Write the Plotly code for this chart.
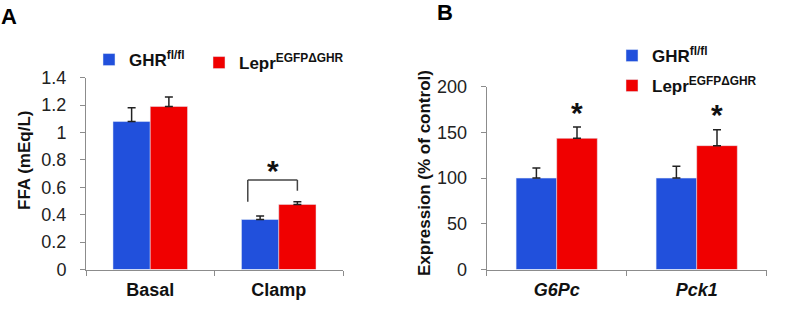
import plotly.graph_objects as go

# ---- data ----
cats_a = ["Basal", "Clamp"]
ghr_a = [1.08, 0.365]
ghr_a_err = [0.10, 0.025]
lepr_a = [1.19, 0.475]
lepr_a_err = [0.07, 0.02]

cats_b = ["G6Pc", "Pck1"]
ghr_b = [100, 100]
ghr_b_err = [11, 13]
lepr_b = [143.5, 135.5]
lepr_b_err = [12.5, 17.5]

name_ghr = "GHR<sup>fl/fl</sup>"
name_lepr = "Lepr<sup>EGFPΔGHR</sup>"

BLUE = "#2150DC"
RED = "#F00000"
FONT = "Liberation Sans, Arial, sans-serif"
AXC = "#8c8c8c"

W, H = 787, 314


def px_x(p):
    return p / W


def px_y(p):
    return 1 - p / H


fig = go.Figure()


def err(vals):
    return dict(type="data", array=vals, arrayminus=[0] * len(vals), symmetric=False,
                color="#222222", thickness=1.5, width=4)


fig.add_trace(go.Bar(x=cats_a, y=ghr_a, name=name_ghr, marker_color=BLUE, error_y=err(ghr_a_err),
                     xaxis="x", yaxis="y", legend="legend"))
fig.add_trace(go.Bar(x=cats_a, y=lepr_a, name=name_lepr, marker_color=RED, error_y=err(lepr_a_err),
                     xaxis="x", yaxis="y", legend="legend2"))
fig.add_trace(go.Bar(x=cats_b, y=ghr_b, name=name_ghr, marker_color=BLUE, error_y=err(ghr_b_err),
                     xaxis="x2", yaxis="y2", legend="legend3"))
fig.add_trace(go.Bar(x=cats_b, y=lepr_b, name=name_lepr, marker_color=RED, error_y=err(lepr_b_err),
                     xaxis="x2", yaxis="y2", legend="legend4"))

y0 = px_y(269.5)
xcommon = dict(showline=True, linecolor=AXC, linewidth=1, ticks="outside", tickson="boundaries",
               ticklen=5, tickcolor=AXC, showgrid=False, zeroline=False,
               ticklabelstandoff=4)
ycommon = dict(showline=True, linecolor=AXC, linewidth=1, ticks="outside", ticklen=5, tickcolor=AXC,
               showgrid=False, zeroline=False, tickfont=dict(family=FONT, size=18, color="#222222"),
               ticklabelstandoff=10)


def leg(xp, yp):
    return dict(x=px_x(xp), y=px_y(yp), xanchor="left", yanchor="middle",
                font=dict(family=FONT, size=17, color="#111111", weight="bold"),
                bgcolor="rgba(0,0,0,0)", itemwidth=30, itemclick=False, itemdoubleclick=False)


fig.update_layout(
    width=W, height=H,
    margin=dict(l=0, r=0, t=0, b=0, pad=0, autoexpand=False),
    paper_bgcolor="white", plot_bgcolor="white",
    barmode="group", bargap=0.42, bargroupgap=0,
    font=dict(family=FONT, color="#111111"),
    xaxis=dict(domain=[px_x(86), px_x(343)], anchor="y",
               tickfont=dict(family=FONT, size=18, color="#111111", weight="bold"), **xcommon),
    yaxis=dict(domain=[y0, px_y(77.7)], anchor="x", range=[0, 1.4], dtick=0.2,
               tickformat="~g", **ycommon),
    xaxis2=dict(domain=[px_x(486.7), px_x(766.7)], anchor="y2",
                tickfont=dict(family=FONT, size=18, color="#111111", weight="bold", style="italic"),
                **xcommon),
    yaxis2=dict(domain=[y0, px_y(86.7)], anchor="x2", range=[0, 200], dtick=50, **ycommon),
    legend=leg(89, 60),
    legend2=leg(199, 63),
    legend3=leg(612, 56),
    legend4=leg(612, 86),
    showlegend=True,
)

# significance bracket for Clamp (category index 1)
br_x = [0.759, 1.145]
br_top = 0.653
br_bottom = [0.495, 0.575]
for sx0, sy0, sx1, sy1 in [(br_x[0], br_bottom[0], br_x[0], br_top),
                           (br_x[0], br_top, br_x[1], br_top),
                           (br_x[1], br_top, br_x[1], br_bottom[1])]:
    fig.add_shape(type="line", xref="x", yref="y", x0=sx0, y0=sy0, x1=sx1, y1=sy1,
                  line=dict(color="#444444", width=1.5))

star_font = dict(family=FONT, size=30, color="#111111", weight="bold")
fig.add_annotation(x=(br_x[0] + br_x[1]) / 2, y=0.72, xref="x", yref="y", text="*",
                   showarrow=False, font=star_font, xanchor="center", yanchor="middle")
fig.add_annotation(x="G6Pc", y=172, xref="x2", yref="y2", text="*", xshift=20,
                   showarrow=False, font=star_font, xanchor="center", yanchor="middle")
fig.add_annotation(x="Pck1", y=170, xref="x2", yref="y2", text="*", xshift=20,
                   showarrow=False, font=star_font, xanchor="center", yanchor="middle")

# axis titles
title_font = dict(family=FONT, size=17, color="#111111", weight="bold")
fig.add_annotation(x=px_x(24), y=px_y(161), xref="paper", yref="paper", text="FFA (mEq/L)",
                   textangle=-90, showarrow=False, xanchor="center", yanchor="middle", font=title_font)
fig.add_annotation(x=px_x(424), y=px_y(173), xref="paper", yref="paper", text="Expression (% of control)",
                   textangle=-90, showarrow=False, xanchor="center", yanchor="middle", font=title_font)

# panel letters
letter_font = dict(family=FONT, size=22, color="#000000", weight="bold")
fig.add_annotation(x=px_x(9), y=px_y(17), xref="paper", yref="paper", text="A", showarrow=False,
                   xanchor="center", yanchor="middle", font=letter_font)
fig.add_annotation(x=px_x(445), y=px_y(12.5), xref="paper", yref="paper", text="B", showarrow=False,
                   xanchor="center", yanchor="middle", font=letter_font)

fig.write_html("out.html", config={"displayModeBar": False},
               post_script="document.body.style.margin='0';")
